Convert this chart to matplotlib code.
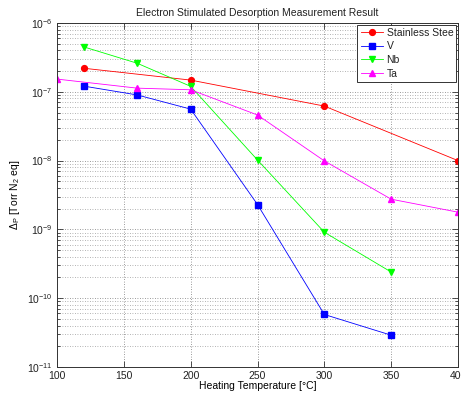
import matplotlib
matplotlib.use("Agg")
import matplotlib.pyplot as plt
from matplotlib.ticker import LogLocator, FixedLocator

plt.rcParams['font.family'] = ['Liberation Sans', 'DejaVu Sans']
plt.rcParams['mathtext.fontset'] = 'custom'
plt.rcParams['mathtext.rm'] = 'Liberation Sans'
plt.rcParams['mathtext.it'] = 'Liberation Sans'
plt.rcParams['mathtext.bf'] = 'Liberation Sans'
plt.rcParams['text.color'] = '#222222'
plt.rcParams['xtick.labelcolor'] = '#222222'
plt.rcParams['ytick.labelcolor'] = '#222222'

# Heating temperatures [°C] and desorption yields per material
ss_temp = [120, 200, 300, 400]
ss_val = [2.2e-7, 1.48e-7, 6.2e-8, 1.0e-8]

v_temp = [120, 160, 200, 250, 300, 350]
v_val = [1.21e-7, 9.0e-8, 5.6e-8, 2.3e-9, 5.8e-11, 2.9e-11]

nb_temp = [120, 160, 200, 250, 300, 350]
nb_val = [4.5e-7, 2.6e-7, 1.2e-7, 1.02e-8, 9.1e-10, 2.4e-10]

ta_temp = [100, 160, 200, 250, 300, 350, 400]
ta_val = [1.53e-7, 1.13e-7, 1.07e-7, 4.6e-8, 9.9e-9, 2.75e-9, 1.78e-9]

labels = ['Stainless Stee', 'V', 'Nb', 'Ta']
x_ticks = [100, 150, 200, 250, 300, 350, 400]

fig = plt.figure(figsize=(4.61, 3.99), dpi=100)
ax = fig.add_axes([57 / 461, 1 - 367 / 399, 401 / 461, 344 / 399])

fs = 7.5
ax.semilogy(ss_temp, ss_val, '-o', color='#ff0000', lw=0.6, ms=4.2,
            label=labels[0])
ax.semilogy(v_temp, v_val, '-s', color='#0000ff', lw=0.6, ms=4.2,
            label=labels[1])
ax.semilogy(nb_temp, nb_val, '-v', color='#00ff00', lw=0.6, ms=4.6,
            label=labels[2])
ax.semilogy(ta_temp, ta_val, '-^', color='#ff00ff', lw=0.6, ms=4.6,
            label=labels[3])

ax.set_xlim(100, 400)
ax.set_ylim(1e-11, 1e-6)
ax.xaxis.set_major_locator(FixedLocator(x_ticks))
ax.set_xticklabels([str(t) for t in x_ticks])
ax.yaxis.set_major_locator(LogLocator(base=10, numticks=10))
ax.yaxis.set_minor_locator(LogLocator(base=10, subs=range(2, 10), numticks=20))

ax.grid(True, which='major', axis='both', linestyle=(0, (1, 2)),
        color='#7a7a7a', lw=0.6)
ax.grid(True, which='minor', axis='y', linestyle=(0, (1, 2)),
        color='#9a9a9a', lw=0.6)

ax.tick_params(which='both', direction='in', top=True, right=True,
               labelsize=fs, color='#333333', width=0.6)
ax.tick_params(which='major', length=4, pad=3)
ax.tick_params(which='minor', length=2)
for s in ax.spines.values():
    s.set_linewidth(0.7)
    s.set_color('#333333')

ax.set_title('Electron Stimulated Desorption Measurement Result',
             fontsize=fs, pad=5)
ax.set_xlabel('Heating Temperature [°C]', fontsize=fs, labelpad=0)
ax.set_ylabel(r'$\Delta_P$ [Torr N$_2$ eq]', fontsize=fs, labelpad=4)

leg = ax.legend(loc='upper right', fontsize=fs, frameon=True, fancybox=False,
                borderaxespad=0.15, handlelength=2.2, handletextpad=0.3,
                labelspacing=0.35, borderpad=0.3)
leg.get_frame().set_edgecolor('#333333')
leg.get_frame().set_linewidth(0.7)
leg.get_frame().set_alpha(1)

fig.savefig('out.png', dpi=100)
